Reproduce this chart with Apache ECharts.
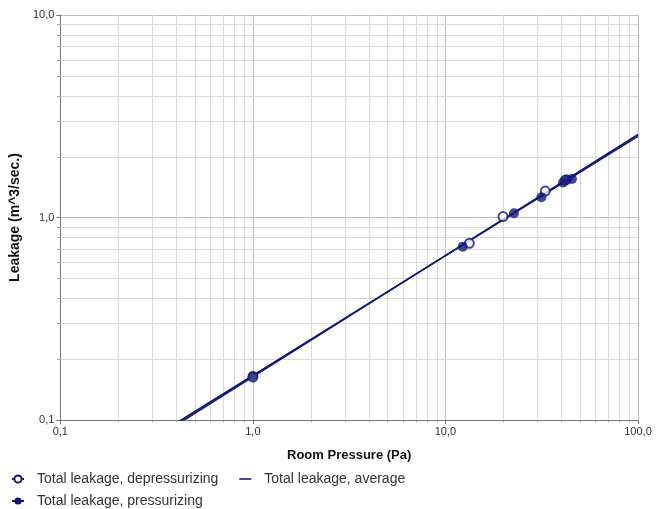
<!DOCTYPE html>
<html><head><meta charset="utf-8">
<script src="https://cdn.jsdelivr.net/npm/echarts@6/dist/echarts.min.js"></script>
<style>html,body{margin:0;padding:0;background:#fff}#c{width:665px;height:509px}</style>
</head><body><div id="c"></div>
<script>
// Measured points (Room Pressure Pa, Leakage m^3/s)
const depressX = [1.0, 13.3, 19.9, 33.0, 42.0];
const depressY = [0.163, 0.746, 1.01, 1.35, 1.53];
const pressX = [1.0, 12.3, 22.7, 31.5, 40.8, 42.8, 45.4];
const pressY = [0.165, 0.718, 1.05, 1.26, 1.49, 1.54, 1.55];
// Fitted lines: endpoints
const fitX = [0.1, 100];
const fitDepressY = [0.0410, 2.58];
const fitPressY = [0.0428, 2.51];
const fitAvgY = [0.0420, 2.55];
// Minor grid values
const xMinor = [0.2,0.3,0.4,0.5,0.6,0.7,0.8,0.9,2,3,4,5,6,7,8,9,20,30,40,50,60,70,80,90];
const yMinor = [0.2,0.3,0.4,0.5,0.6,0.7,0.8,0.9,2,3,4,5,6,7,8,9];

const NAVY = '#0f1878';
const FONT = 'Liberation Sans, Arial, sans-serif';
const pair = (xs, ys) => xs.map((x, i) => [x, ys[i]]);
const fmt = v => v.toFixed(1).replace('.', ',');

const chart = echarts.init(document.getElementById('c'), null, {renderer: 'canvas'});
const legendText = {fontFamily: FONT, fontSize: 14, color: '#333', padding: [0, 0, 0, 8]};
chart.setOption({
  animation: false,
  backgroundColor: '#fff',
  textStyle: {fontFamily: FONT},
  grid: {left: 57, right: 27, top: 15, bottom: 89, containLabel: false},
  xAxis: {
    type: 'log', logBase: 10, min: 0.1, max: 100,
    name: 'Room Pressure (Pa)', nameLocation: 'middle', nameGap: 29,
    nameTextStyle: {fontFamily: FONT, fontSize: 13, fontWeight: 'bold', color: '#111'},
    axisLine: {show: true, lineStyle: {color: '#777', width: 1}},
    axisTick: {show: true, length: 4, lineStyle: {color: '#777'}},
    axisLabel: {fontFamily: FONT, fontSize: 11, color: '#333', margin: 6, formatter: v => fmt(v)},
    splitLine: {show: true, lineStyle: {color: '#bdbdbd', width: 1}}
  },
  yAxis: {
    type: 'log', logBase: 10, min: 0.1, max: 10,
    name: 'Leakage (m^3/sec.)', nameLocation: 'middle', nameGap: 35,
    nameTextStyle: {fontFamily: FONT, fontSize: 14, fontWeight: 'bold', color: '#111'},
    axisLine: {show: true, lineStyle: {color: '#777', width: 1}},
    axisTick: {show: true, length: 4, lineStyle: {color: '#777'}},
    axisLabel: {fontFamily: FONT, fontSize: 11, color: '#333', margin: 6, formatter: v => fmt(v)},
    splitLine: {show: true, lineStyle: {color: '#bdbdbd', width: 1}}
  },
  legend: [
    {data: ['Total leakage, depressurizing', {name: 'Total leakage, average', icon: 'path://M0,0H20V2.6H0Z'}],
     left: 6, top: 467, itemWidth: 12, itemHeight: 9, itemGap: 21, textStyle: legendText},
    {data: ['Total leakage, pressurizing'],
     left: 6, top: 489, itemWidth: 12, itemHeight: 9, textStyle: legendText}
  ],
  series: [
    {type: 'custom', name: 'vgrid', silent: true, z: 1, clip: false,
     data: xMinor.map(v => [v, 1]),
     renderItem(params, api) {
       const p = api.coord([api.value(0), 1]);
       const cs = params.coordSys;
       const x = Math.round(p[0]) + 0.5;
       return {type: 'group', children: [
         {type: 'line', shape: {x1: x, y1: cs.y, x2: x, y2: cs.y + cs.height}, style: {stroke: '#d9d9d9', lineWidth: 1}},
         {type: 'line', shape: {x1: x, y1: cs.y + cs.height, x2: x, y2: cs.y + cs.height + 2}, style: {stroke: '#999', lineWidth: 1}}
       ]};
     }},
    {type: 'custom', name: 'hgrid', silent: true, z: 1, clip: false,
     data: yMinor.map(v => [1, v]),
     renderItem(params, api) {
       const p = api.coord([1, api.value(1)]);
       const cs = params.coordSys;
       const y = Math.round(p[1]) + 0.5;
       return {type: 'group', children: [
         {type: 'line', shape: {x1: cs.x, y1: y, x2: cs.x + cs.width, y2: y}, style: {stroke: '#d9d9d9', lineWidth: 1}},
         {type: 'line', shape: {x1: cs.x - 3, y1: y, x2: cs.x, y2: y}, style: {stroke: '#999', lineWidth: 1}}
       ]};
     }},
    {type: 'line', name: 'Total leakage, depressurizing', data: pair(fitX, fitDepressY),
     symbol: 'emptyCircle', symbolSize: 6, showSymbol: false, z: 3,
     itemStyle: {color: NAVY}, lineStyle: {color: NAVY, width: 1.2}},
    {type: 'line', name: 'Total leakage, pressurizing', data: pair(fitX, fitPressY),
     symbol: 'circle', symbolSize: 6, showSymbol: false, z: 3,
     itemStyle: {color: NAVY}, lineStyle: {color: NAVY, width: 1.2}},
    {type: 'line', name: 'Total leakage, average', data: pair(fitX, fitAvgY),
     symbol: 'none', z: 4,
     itemStyle: {color: NAVY}, lineStyle: {color: NAVY, width: 1.6}},
    {type: 'scatter', name: 'depPts', data: pair(depressX, depressY), symbol: 'circle', symbolSize: 9, z: 5,
     itemStyle: {color: '#fff', borderColor: NAVY, borderWidth: 2}},
    {type: 'scatter', name: 'pressPts', data: pair(pressX, pressY), symbol: 'circle', symbolSize: 10, z: 6,
     itemStyle: {color: NAVY}}
  ]
});
</script></body></html>
